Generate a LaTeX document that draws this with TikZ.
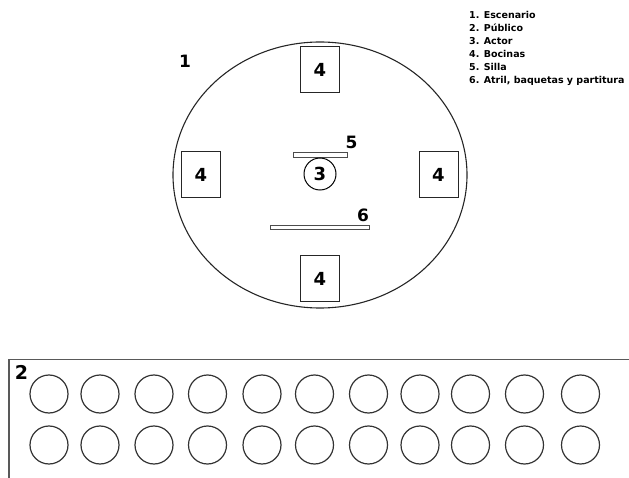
\documentclass[tikz,border=0pt]{standalone}
\usepackage{fontspec}
\setmainfont{DejaVu Sans}
\usetikzlibrary{shapes.geometric}
\tikzset{
  lab/.style={font=\bfseries\fontsize{17}{17}\selectfont, inner sep=0pt},
  spk/.style={draw=black!85, line width=1pt, minimum width=39pt, minimum height=46pt, inner sep=0pt, font=\bfseries\fontsize{18}{18}\selectfont},
  bar/.style={draw=black!70, fill=white, line width=1pt, inner sep=0pt},
  seat/.style={draw=black!80, line width=1.2pt, ellipse, minimum width=38pt, minimum height=38pt, inner sep=0pt},
  leg/.style={font=\bfseries\fontsize{9.5}{9.5}\selectfont, inner sep=0pt, anchor=base west},
}
\begin{document}
\begin{tikzpicture}[x=1pt,y=-1pt]
\useasboundingbox (0,0) rectangle (629,478);
% stage
\node[draw=black!85, line width=1.1pt, ellipse, minimum width=294pt, minimum height=266pt, inner sep=0pt] (stage) at (320,175) {};
\node[lab] (l1) at (185,61) {1};
% speakers
\node[spk] (s1) at (320,70) {4};
\node[spk] (s2) at (201,175) {4};
\node[spk] (s3) at (438.5,175) {4};
\node[spk] (s4) at (320,278.5) {4};
% chair
\node[bar, minimum width=54pt, minimum height=5pt] (chair) at (320,155.5) {};
\node[lab] (l5) at (351.5,142) {5};
% actor
\node[draw=black, line width=1pt, circle, minimum size=32pt, inner sep=0pt, font=\bfseries\fontsize{18}{18}\selectfont] (actor) at (320,174) {3};
% stand
\node[bar, minimum width=99pt, minimum height=3.5pt] (stand) at (319.5,227.5) {};
\node[lab] (l6) at (363,215.5) {6};
% legend
\node[leg] (g1) at (469,18.7) {1. Escenario};
\node[leg] (g2) at (469,31.7) {2. Público};
\node[leg] (g3) at (469,44.7) {3. Actor};
\node[leg] (g4) at (469,57.7) {4. Bocinas};
\node[leg] (g5) at (469,70.7) {5. Silla};
\node[leg] (g6) at (469,83.7) {6. Atril, baquetas y partitura};
% audience
\coordinate (a1) at (9,478);
\coordinate (a2) at (9,359.3);
\coordinate (a3) at (629,359.3);
\draw[draw=black!65, line width=1.3pt] (a1) -- (a2) -- (a3);
\node[lab, font=\bfseries\fontsize{19}{19}\selectfont] (l2) at (21.5,372) {2};
\foreach \x [count=\i] in {49,100,154,207.5,262,314.5,368.5,420,470.5,524.5,580.5}{
  \node[seat] (r1c\i) at (\x,394) {};
  \node[seat] (r2c\i) at (\x,445) {};
}
\end{tikzpicture}
\end{document}
